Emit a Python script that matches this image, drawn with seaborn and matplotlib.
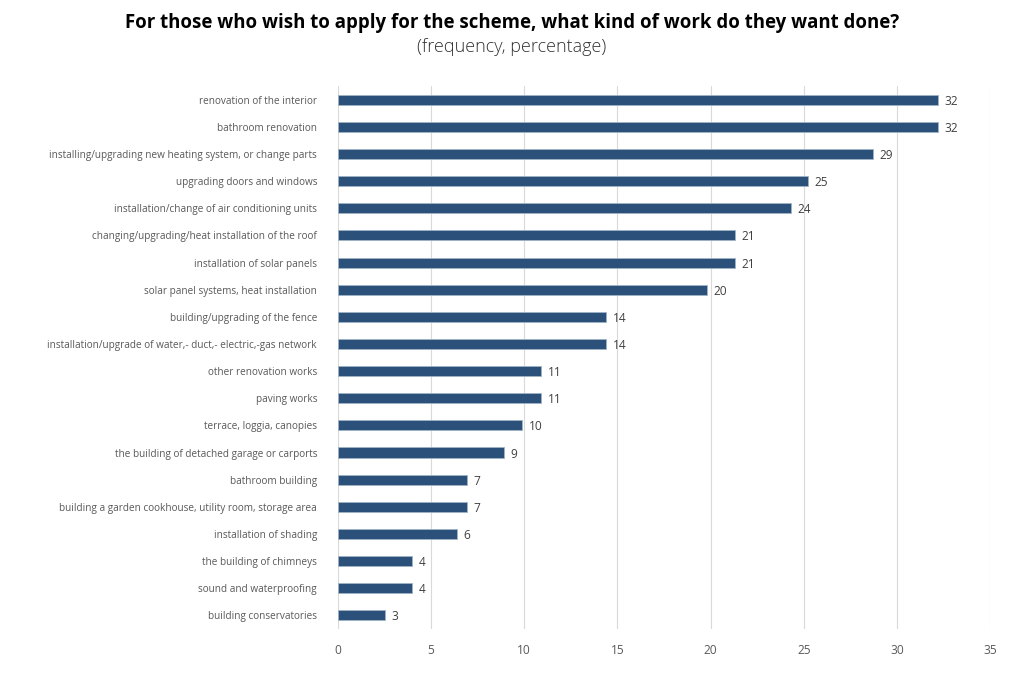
import numpy as np
import pandas as pd
import matplotlib
matplotlib.use("Agg")
import matplotlib.pyplot as plt
import seaborn as sns

# data
works = [
    "renovation of the interior",
    "bathroom renovation",
    "installing/upgrading new heating system, or change parts",
    "upgrading doors and windows",
    "installation/change of air conditioning units",
    "changing/upgrading/heat installation of the roof",
    "installation of solar panels",
    "solar panel systems, heat installation",
    "building/upgrading of the fence",
    "installation/upgrade of water,- duct,- electric,-gas network",
    "other renovation works",
    "paving works",
    "terrace, loggia, canopies",
    "the building of detached garage or carports",
    "bathroom building",
    "building a garden cookhouse, utility room, storage area",
    "installation of shading",
    "the building of chimneys",
    "sound and waterproofing",
    "building conservatories",
]
share = [32.2, 32.2, 28.7, 25.2, 24.3, 21.3, 21.3, 19.8, 14.4, 14.4,
         10.9, 10.9, 9.9, 8.9, 6.9, 6.9, 6.4, 4.0, 4.0, 2.5]
x_ticks = [0, 5, 10, 15, 20, 25, 30, 35]

df = pd.DataFrame({"work": works, "share": share})

sns.set_theme(style="white")
plt.rcParams["font.family"] = ["Open Sans", "DejaVu Sans"]

fig = plt.figure(figsize=(10.24, 6.74), dpi=100)
ax = fig.add_axes([0.330, 0.067, 0.637, 0.805])

sns.barplot(data=df, x="share", y="work", color="#2B5079", width=0.37,
            edgecolor="#9FB3C8", linewidth=0.6, saturation=1, ax=ax, zorder=3)

# value labels (rounded half up, as in the original)
for bar, v in zip(ax.patches, share):
    ax.text(bar.get_width() + 0.35, bar.get_y() + bar.get_height() / 2,
            str(int(v + 0.5)), va="center_baseline", ha="left",
            fontsize=8.6, color="#404040")

ax.set_xlim(0, 35)
ax.set_xticks(x_ticks)
ax.set_xticklabels([str(t) for t in x_ticks], fontsize=8.6, color="#595959")
ax.tick_params(axis="y", labelsize=7.2, colors="#595959", length=0, pad=15)
ax.tick_params(axis="x", length=0, pad=11)
ax.xaxis.grid(True, color="#D9D9D9", linewidth=0.8, zorder=0)
ax.set_axisbelow(True)
ax.set_xlabel("")
ax.set_ylabel("")
sns.despine(ax=ax, left=True, bottom=True)

fig.text(0.5, 0.966, "For those who wish to apply for the scheme, what kind of work do they want done?",
         ha="center", va="center", fontsize=13.4, fontweight="bold", color="black")
fig.text(0.5, 0.931, "(frequency, percentage)", ha="center", va="center",
         fontsize=13, fontweight="light", color="#333333")

fig.savefig("out.png", dpi=100)
